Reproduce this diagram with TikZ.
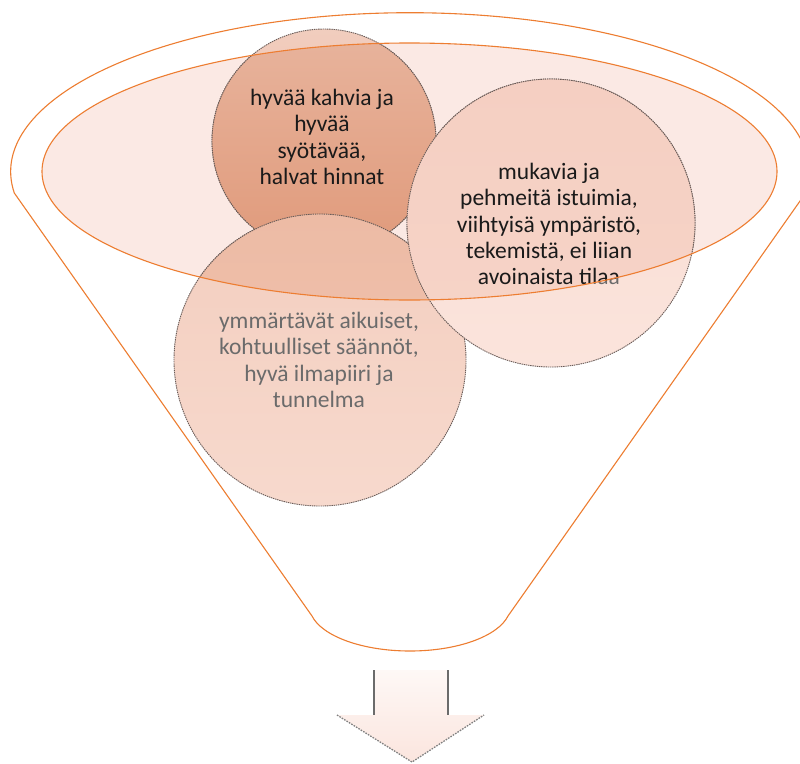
\documentclass[tikz,border=0pt]{standalone}
\usepackage{fontspec}
\setmainfont{Carlito}
\definecolor{orng}{HTML}{ED7D31}
\definecolor{ellfill}{HTML}{FBE9E4}
\definecolor{bordc}{HTML}{6A5C58}
\definecolor{grtext}{HTML}{6B6B6B}
\definecolor{bktext}{HTML}{1A1A1A}
\definecolor{cAoT}{HTML}{F1CDBE}
\definecolor{cAoB}{HTML}{ECB9A3}
\definecolor{cCoT}{HTML}{F3CEBF}
\definecolor{cCoB}{HTML}{F7D9CD}
\definecolor{cBoT}{HTML}{F8DCD2}
\definecolor{cBoB}{HTML}{FBE4DC}
\definecolor{cAiT}{HTML}{E8B49D}
\definecolor{cAiB}{HTML}{E09A7B}
\definecolor{cCiT}{HTML}{EDBBA5}
\definecolor{cCiB}{HTML}{F0C4B0}
\definecolor{cBiT}{HTML}{F5CFC2}
\definecolor{cBiB}{HTML}{F6D4C8}
\definecolor{arT}{HTML}{FEF8F6}
\definecolor{arB}{HTML}{FBE5DE}
\tikzset{
  funnelline/.style={draw=orng, line width=1.1pt},
  circ/.style={circle, inner sep=0pt, draw=bordc, line width=0.9pt, dash pattern=on 1.4pt off 0.8pt},
  lbl/.style={align=center, inner sep=0pt, font=\fontsize{23.5}{26.4}\selectfont},
  shaftline/.style={draw=black!58, line width=2pt},
  headline/.style={draw=black!50, line width=1.3pt, dash pattern=on 1.6pt off 1.2pt},
}
\begin{document}
\begin{tikzpicture}[x=1pt,y=-1pt]
\useasboundingbox (0,0) rectangle (800,763);
\clip (0,0) rectangle (800,763);
% funnel outline
\draw[funnelline, fill=white] (14.3,193) arc[start angle=172.3, end angle=367.7, x radius=399.3, y radius=159]
  -- (508,616) .. controls (498,636) and (458,651) .. (410,651)
  .. controls (362,651) and (322,636) .. (312,616) -- cycle;
% inner ellipse fill
\fill[ellfill] (409.5,171.5) ellipse [x radius=367.5, y radius=128.5];
% circles, outside look
\node[circ, minimum size=224pt, top color=cAoT, bottom color=cAoB] (c1) at (324,141) {};
\node[circ, minimum size=292pt, top color=cCoT, bottom color=cCoB] (c3) at (320,360) {};
\node[circ, minimum size=288pt, top color=cBoT, bottom color=cBoB] (c2) at (551,223) {};
\node[lbl, text=grtext] (t1) at (322,137) {hyvää kahvia ja\\hyvää\\syötävää,\\halvat hinnat};
\node[lbl, text=grtext] (t3) at (319,360) {ymmärtävät aikuiset,\\kohtuulliset säännöt,\\hyvä ilmapiiri ja\\tunnelma};
\node[lbl, text=grtext] (t2) at (549,224) {mukavia ja\\pehmeitä istuimia,\\viihtyisä ympäristö,\\tekemistä, ei liian\\avoinaista tilaa};
% circles, inside the ellipse
\begin{scope}
\clip (409.5,171.5) ellipse [x radius=367.5, y radius=128.5];
\node[circ, minimum size=224pt, top color=cAiT, bottom color=cAiB] (c1in) at (324,141) {};
\node[circ, minimum size=292pt, top color=cCiT, bottom color=cCiB] (c3in) at (320,360) {};
\node[circ, minimum size=288pt, top color=cBiT, bottom color=cBiB] (c2in) at (551,223) {};
\node[lbl, text=bktext] (t1in) at (322,137) {hyvää kahvia ja\\hyvää\\syötävää,\\halvat hinnat};
\node[lbl, text=bktext] (t3in) at (319,360) {ymmärtävät aikuiset,\\kohtuulliset säännöt,\\hyvä ilmapiiri ja\\tunnelma};
\node[lbl, text=bktext] (t2in) at (549,224) {mukavia ja\\pehmeitä istuimia,\\viihtyisä ympäristö,\\tekemistä, ei liian\\avoinaista tilaa};
\end{scope}
% inner ellipse border
\draw[funnelline] (409.5,171.5) ellipse [x radius=367.5, y radius=128.5];
% arrow
\coordinate (sl) at (374,670);
\coordinate (sr) at (448,670);
\coordinate (bl) at (374,715);
\coordinate (br) at (448,715);
\coordinate (hl) at (337,715);
\coordinate (hr) at (484,715);
\coordinate (tip) at (412,762);
\shade[top color=arT, bottom color=arB] (sl) -- (sr) -- (br) -- (hr) -- (tip) -- (hl) -- (bl) -- cycle;
\draw[shaftline] (sl) -- (bl);
\draw[shaftline] (sr) -- (br);
\draw[headline] (hl) -- (tip) -- (hr);
\end{tikzpicture}
\end{document}
